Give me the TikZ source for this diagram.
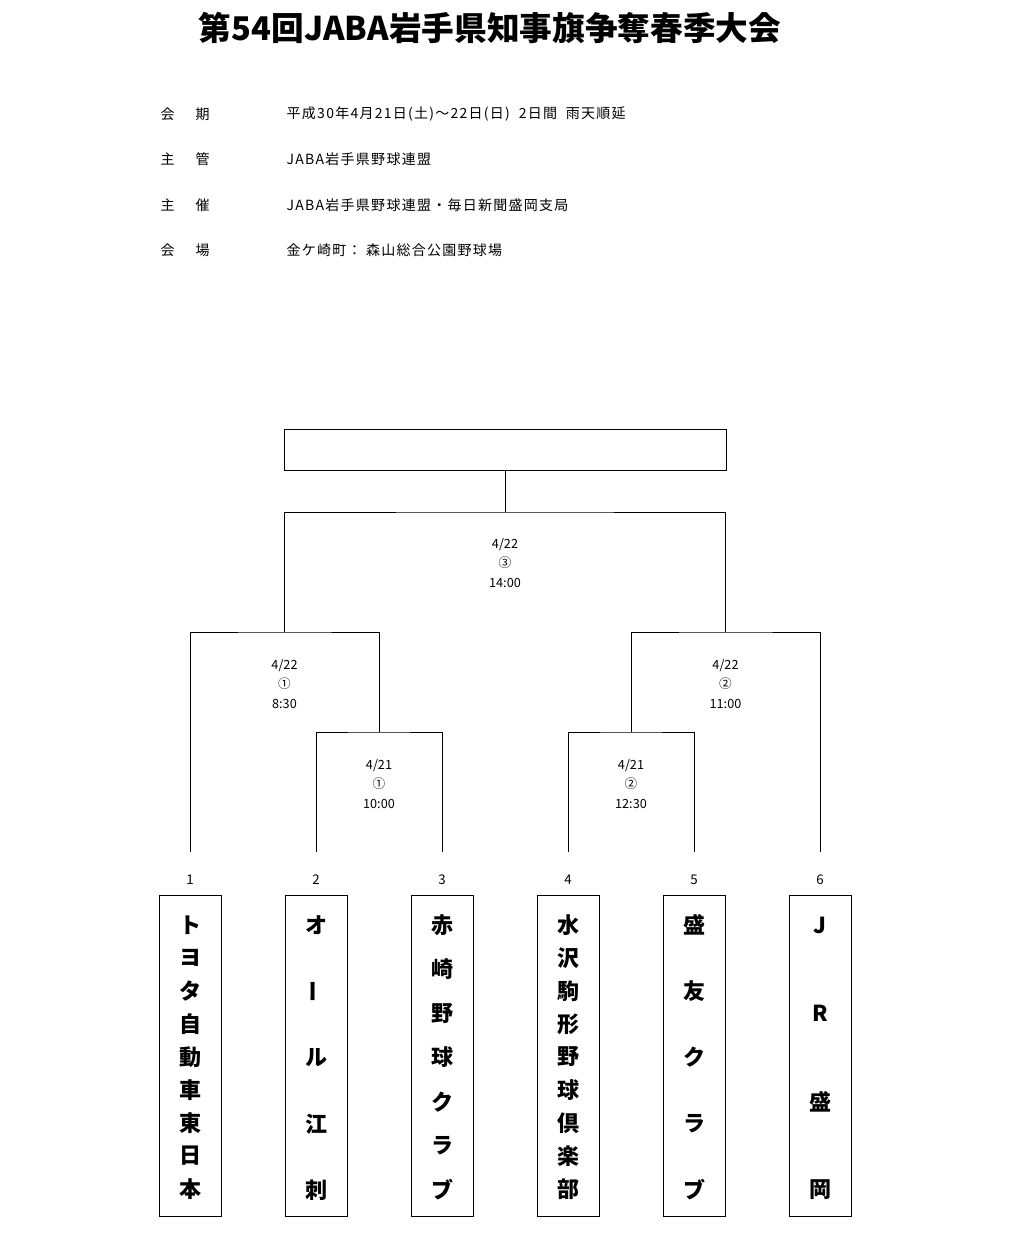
\documentclass[tikz,border=0pt]{standalone}
\usepackage{fontspec}
\setmainfont{Noto Sans CJK JP}
\newfontfamily\spaced[LetterSpace=9]{Noto Sans CJK JP}
\usetikzlibrary{positioning}
\tikzset{
  bline/.style={thin},
  team/.style={draw,thin,minimum width=46.5,minimum height=240.75,anchor=north},
  info/.style={anchor=west,font=\spaced\fontsize{10.5}{12}\selectfont},
  mlabel/.style={align=center,font=\fontsize{9.5}{14.5}\selectfont},
  tchar/.style={font=\bfseries\fontsize{16.5}{18}\selectfont}
}
\begin{document}
\begin{tikzpicture}[x=0.75pt,y=-0.75pt]
    \useasboundingbox (0,0) rectangle (1024,1245);
    \node[font=\bfseries\fontsize{24.5}{27}\selectfont] (title) at (490,28) {第54回JABA岩手県知事旗争奪春季大会};

    % info lines
    \node[info] (k1) at (156,114) {会\hspace{1.5em}期};
    \node[info] (k2) at (156,159) {主\hspace{1.5em}管};
    \node[info] (k3) at (156,205) {主\hspace{1.5em}催};
    \node[info] (k4) at (156,250) {会\hspace{1.5em}場};
    \node[info] (v1) at (282,114) {平成30年4月21日(土)～22日(日)\ \ 2日間\ \ 雨天順延};
    \node[info] (v2) at (282,159) {JABA岩手県野球連盟};
    \node[info] (v3) at (282,205) {JABA岩手県野球連盟・毎日新聞盛岡支局};
    \node[info] (v4) at (282,250) {金ケ崎町：\ 森山総合公園野球場};

    % teams
    \foreach \i/\x in {1/190,2/316,3/442,4/568,5/694,6/820} {
        \node[team] (t\i) at (\x,895) {};
        \node[font=\fontsize{10}{12}\selectfont] (n\i) at (\x,880) {\i};
        \coordinate (b\i) at (\x,852);
    }
    \foreach \c [count=\k from 0] in {ト,ヨ,タ,自,動,車,東,日,本}
        \node[tchar] at (190,925+\k*33) {\c};
    \foreach \c [count=\k from 0] in {オ,\rotatebox{90}{ー},ル,江,刺}
        \node[tchar] at (316,925+\k*66.25) {\c};
    \foreach \c [count=\k from 0] in {赤,崎,野,球,ク,ラ,ブ}
        \node[tchar] at (442,925+\k*44.17) {\c};
    \foreach \c [count=\k from 0] in {水,沢,駒,形,野,球,倶,楽,部}
        \node[tchar] at (568,925+\k*33) {\c};
    \foreach \c [count=\k from 0] in {盛,友,ク,ラ,ブ}
        \node[tchar] at (694,925+\k*66.25) {\c};
    \foreach \c [count=\k from 0] in {J,R,盛,岡}
        \node[tchar] at (820,925+\k*88.33) {\c};

    % first round
    \draw[bline] (b2) |- (379,732) coordinate (m1) -| (b3);
    \draw[bline] (b4) |- (631,732) coordinate (m2) -| (b5);
    \node[mlabel] (l1) at (379,784) {4/21\\①\\10:00};
    \node[mlabel] (l2) at (631,784) {4/21\\②\\12:30};

    % semifinals
    \draw[bline] (b1) |- (284.5,632) coordinate (s1) -| (m1);
    \draw[bline] (m2) |- (725.5,632) coordinate (s2) -| (b6);
    \node[mlabel] (l3) at (284.5,684) {4/22\\①\\8:30};
    \node[mlabel] (l4) at (725.5,684) {4/22\\②\\11:00};

    % final
    \draw[bline] (s1) |- (505,512) coordinate (f) -| (s2);
    \node[mlabel] (l5) at (505,563) {4/22\\③\\14:00};
    \node[draw,thin,minimum width=331.5,minimum height=30.75,anchor=south] (champ) at (505,471) {};
    \draw[bline] (f) -- (champ.south);
\end{tikzpicture}
\end{document}
